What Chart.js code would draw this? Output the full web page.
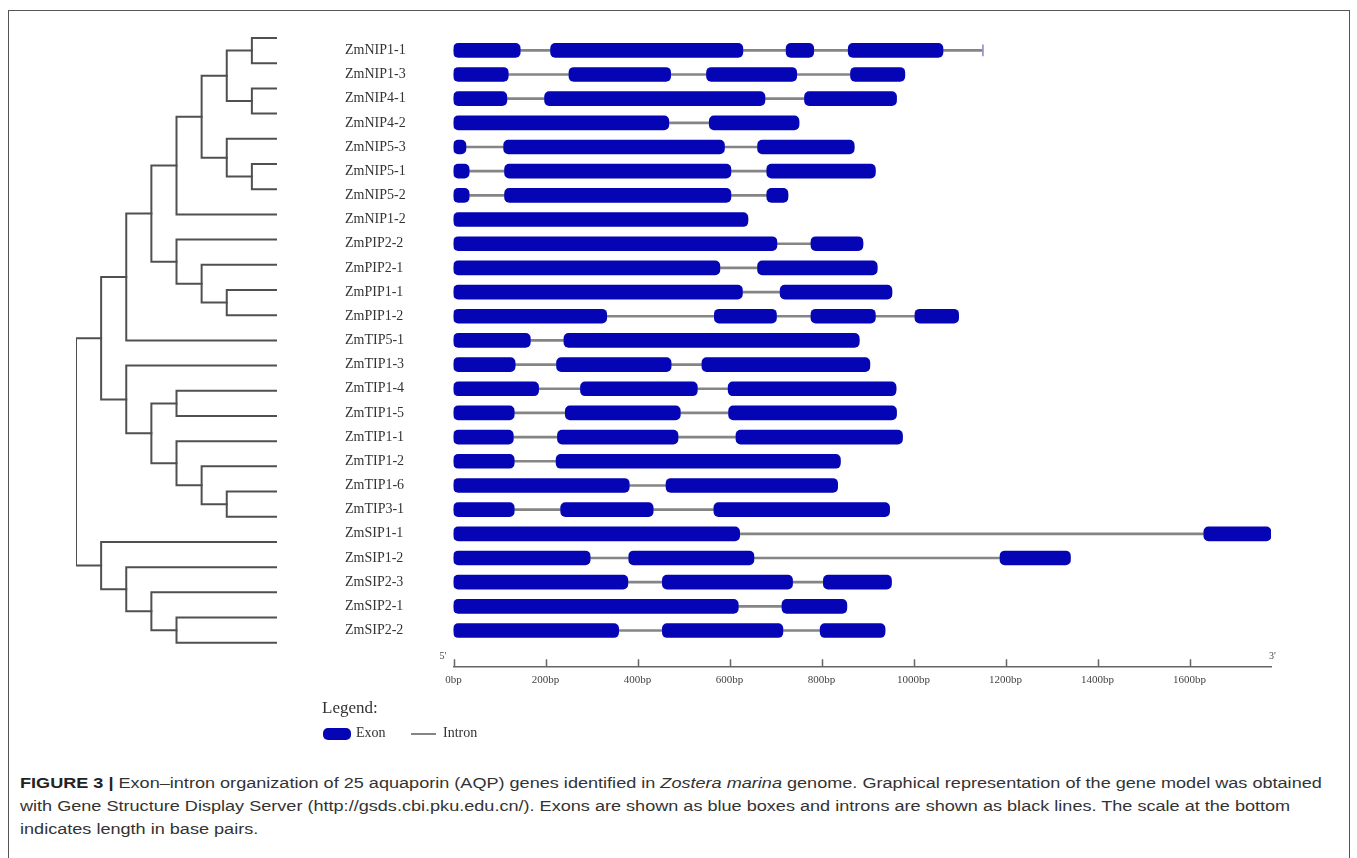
<!DOCTYPE html>
<html>
<head>
<meta charset="utf-8">
<script src="https://cdn.jsdelivr.net/npm/chart.js@4.4.1/dist/chart.umd.min.js"></script>
<style>
  body { margin: 0; background: #fff; width: 1357px; height: 858px; overflow: hidden; position: relative; }
  #frame { position: absolute; left: 8px; top: 10px; width: 1342px; height: 900px; border: 1.5px solid #555; border-bottom: none; box-sizing: border-box; }
  #treeChart, #geneChart { position: absolute; left: 0; top: 0; }
  .lg { position: absolute; font-family: 'Liberation Serif', serif; color: #333; }
  #lgTitle { left: 322px; top: 698px; font-size: 17px; }
  #lgExon { left: 323px; top: 728px; width: 28px; height: 12px; background: #0505b5; border-radius: 5px; }
  #lgExonTxt { left: 356px; top: 725px; font-size: 14px; }
  #lgIntron { left: 411px; top: 733px; width: 25px; height: 2px; background: #858585; }
  #lgIntronTxt { left: 443px; top: 725px; font-size: 14px; }
  #caption { position: absolute; left: 20px; top: 771px; font-family: 'Liberation Sans', Arial, sans-serif; font-size: 15.5px; line-height: 23px; color: #333; white-space: nowrap; transform-origin: left top; }
  #caption b { font-weight: 700; color: #222; }
</style>
</head>
<body>
<div id="frame"></div>
<canvas id="geneChart" width="1357" height="700"></canvas>
<canvas id="treeChart" width="340" height="700"></canvas>

<div class="lg" id="lgTitle">Legend:</div>
<div class="lg" id="lgExon"></div>
<div class="lg" id="lgExonTxt">Exon</div>
<div class="lg" id="lgIntron"></div>
<div class="lg" id="lgIntronTxt">Intron</div>

<div id="caption">
  <div id="capLine1"><b>FIGURE 3 |</b> Exon–intron organization of 25 aquaporin (AQP) genes identified in <i>Zostera marina</i> genome. Graphical representation of the gene model was obtained</div>
  <div>with Gene Structure Display Server (http://gsds.cbi.pku.edu.cn/). Exons are shown as blue boxes and introns are shown as black lines. The scale at the bottom</div>
  <div>indicates length in base pairs.</div>
</div>

<script>
// genes, top to bottom
const genes = ['ZmNIP1-1','ZmNIP1-3','ZmNIP4-1','ZmNIP4-2','ZmNIP5-3','ZmNIP5-1','ZmNIP5-2','ZmNIP1-2',
  'ZmPIP2-2','ZmPIP2-1','ZmPIP1-1','ZmPIP1-2','ZmTIP5-1','ZmTIP1-3','ZmTIP1-4','ZmTIP1-5',
  'ZmTIP1-1','ZmTIP1-2','ZmTIP1-6','ZmTIP3-1','ZmSIP1-1','ZmSIP1-2','ZmSIP2-3','ZmSIP2-1','ZmSIP2-2'];

// exon start/end in bp, per gene
const exons = [
  [[0,145],[211,629],[723,783],[858,1064]],
  [[0,119],[251,472],[550,746],[863,981]],
  [[0,116],[198,677],[763,963]],
  [[0,468],[556,751]],
  [[0,27],[109,589],[661,871]],
  [[0,34],[111,603],[681,917]],
  [[0,34],[111,603],[681,727]],
  [[0,640]],
  [[0,703],[777,890]],
  [[0,579],[661,921]],
  [[0,628],[710,953]],
  [[0,333],[567,702],[777,917],[1003,1098]],
  [[0,167],[240,882]],
  [[0,134],[224,473],[540,905]],
  [[0,185],[276,530],[597,962]],
  [[0,132],[243,493],[598,963]],
  [[0,130],[226,488],[614,976]],
  [[0,132],[223,841]],
  [[0,382],[462,835]],
  [[0,132],[233,434],[566,948]],
  [[0,622],[1631,1777]],
  [[0,297],[381,653],[1188,1341]],
  [[0,379],[454,737],[804,952]],
  [[0,619],[714,855]],
  [[0,359],[454,716],[797,938]]
];

// full gene length (bp)
const geneLen = [1151,981,963,751,871,917,727,640,890,921,953,1098,882,905,962,963,976,841,835,948,1777,1341,952,855,938];

// end marker (gene index, bp)
const endMarks = [[0, 1151]];

const tickVals = [0,200,400,600,800,1000,1200,1400,1600];
const axisMax = 1777;

// tree: [depth, childA, childB], leaf = gene index
const tree = [0,
  [1,
    [2,
      [3,
        [4, [5, [6, [7,0,1], [7,2,3]], [6, 4, [7,5,6]]], 7],
        [4, 8, [5, 9, [6,10,11]]]
      ],
      12
    ],
    [2, 13, [3, [4,14,15], [4, 16, [5, 17, [6,18,19]]]]]
  ],
  [1, 20, [2, 21, [3, 22, [4,23,24]]]]
];
const leafDepth = 8;

// ---- tree chart
const treeSets = [];
function walk(node) {
  if (typeof node === 'number') return { x: leafDepth, y: node };
  const a = walk(node[1]);
  const b = walk(node[2]);
  const d = node[0];
  treeSets.push({
    data: [{x:a.x, y:a.y}, {x:d, y:a.y}, {x:d, y:b.y}, {x:b.x, y:b.y}],
    showLine: true,
    borderColor: '#505050',
    borderWidth: 2,
    borderCapStyle: 'square',
    borderJoinStyle: 'miter',
    pointRadius: 0,
    tension: 0
  });
  return { x: d, y: (a.y + b.y) / 2 };
}
walk(tree);

new Chart(document.getElementById('treeChart'), {
  type: 'scatter',
  data: { datasets: treeSets },
  options: {
    responsive: false,
    animation: false,
    layout: { padding: { left: 76, right: 63, top: 25.4, bottom: 33.3 } },
    plugins: { legend: { display: false }, tooltip: { enabled: false } },
    scales: {
      x: { type: 'linear', min: 0, max: leafDepth, display: false },
      y: { type: 'linear', min: -0.5, max: 24.95, reverse: true, display: false }
    }
  }
});

// ---- gene structure chart
const exonData = [];
exons.forEach((list, i) => list.forEach(e => exonData.push({ y: i, x: e })));
const intronData = geneLen.map((len, i) => ({ y: i, x: [0, len] }));
const markData = endMarks.map(m => ({ y: m[0], x: [m[1] - 1.5, m[1] + 1] }));

const axisDecor = {
  id: 'axisDecor',
  afterDraw(chart) {
    const x = chart.scales.x;
    const c = chart.ctx;
    const yb = x.top;
    c.save();
    c.strokeStyle = '#666';
    c.lineWidth = 1.5;
    tickVals.forEach(v => {
      const px = Math.round(x.getPixelForValue(v)) + 0.5;
      c.beginPath();
      c.moveTo(px, yb - 7);
      c.lineTo(px, yb);
      c.stroke();
    });
    c.fillStyle = '#444';
    c.font = '10px "Liberation Serif", serif';
    c.textBaseline = 'middle';
    c.textAlign = 'left';
    c.fillText("5'", x.getPixelForValue(0) - 14, yb - 10);
    c.fillText("3'", x.getPixelForValue(axisMax) - 2, yb - 10);
    c.restore();
  }
};

new Chart(document.getElementById('geneChart'), {
  type: 'bar',
  data: {
    datasets: [
      { data: exonData, backgroundColor: '#0505b5', barThickness: 14, borderRadius: 5, borderSkipped: false, grouped: false, order: 0 },
      { data: markData, backgroundColor: '#9a9acc', barThickness: 11, grouped: false, order: 1 },
      { data: intronData, backgroundColor: '#858585', barThickness: 2, grouped: false, order: 2 }
    ]
  },
  options: {
    indexAxis: 'y',
    responsive: false,
    animation: false,
    layout: { padding: { left: 345, right: 86, top: 25.4, bottom: 3 } },
    plugins: { legend: { display: false }, tooltip: { enabled: false } },
    scales: {
      x: {
        type: 'linear', min: 0, max: axisMax, position: 'bottom',
        grid: { display: false, drawTicks: false },
        border: { display: true, color: '#666', width: 1.5 },
        afterBuildTicks: s => { s.ticks = tickVals.map(v => ({ value: v })); },
        afterFit: s => { s.height = 30.7; },
        ticks: {
          padding: 7, maxRotation: 0, autoSkip: false,
          color: '#444', font: { family: 'Liberation Serif', size: 11 },
          callback: v => v + 'bp'
        }
      },
      y: {
        type: 'linear', min: -0.5, max: 24.95, reverse: true,
        grid: { display: false, drawTicks: false },
        border: { display: false },
        afterBuildTicks: s => { s.ticks = genes.map((g, i) => ({ value: i })); },
        afterFit: s => { s.width = 108.5; },
        ticks: {
          crossAlign: 'far', autoSkip: false, padding: 0,
          color: '#333', font: { family: 'Liberation Serif', size: 14 },
          callback: v => genes[v]
        }
      }
    }
  },
  plugins: [axisDecor]
});

// fit caption first line to its width in the figure
const cap = document.getElementById('caption');
const w = document.getElementById('capLine1').scrollWidth;
cap.style.transform = 'scaleX(' + (1302 / w) + ')';
</script>
</body>
</html>
